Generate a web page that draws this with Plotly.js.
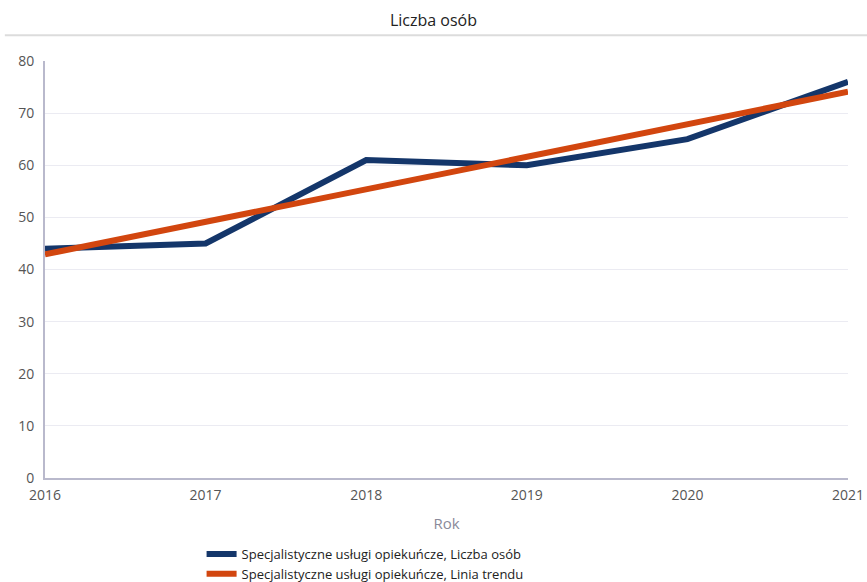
<!DOCTYPE html>
<html>
<head>
<meta charset="utf-8">
<script src="https://cdn.plot.ly/plotly-3.0.1.min.js"></script>
<style>html,body{margin:0;padding:0;background:#fff;}#chart{width:867px;height:582px;}</style>
</head>
<body>
<div id="chart"></div>
<script>
const years = [2016, 2017, 2018, 2019, 2020, 2021];
const liczbaOsob = [44, 45, 61, 60, 65, 76];
const liniaTrendu = [42.9, 49.1, 55.4, 61.6, 67.9, 74.1];
const yTicks = [0, 10, 20, 30, 40, 50, 60, 70, 80];
const seriesNames = ['Specjalistyczne usługi opiekuńcze, Liczba osób', 'Specjalistyczne usługi opiekuńcze, Linia trendu'];

const font = 'Open Sans, Noto Sans, sans-serif';
const traces = [
  {x: years, y: liczbaOsob, type: 'scatter', mode: 'lines', name: seriesNames[0],
   line: {color: '#14366a', width: 6}},
  {x: years, y: liniaTrendu, type: 'scatter', mode: 'lines', name: seriesNames[1],
   line: {color: '#d2460f', width: 6}}
];
const layout = {
  width: 867, height: 582,
  margin: {l: 45, r: 19, t: 61, b: 104, autoexpand: false},
  paper_bgcolor: '#fff', plot_bgcolor: '#fff',
  font: {family: font, color: '#555', size: 14},
  title: {text: 'Liczba osób', x: 0.5, xanchor: 'center', y: 0.965, yanchor: 'middle', font: {family: font, size: 16, color: '#222'}},
  xaxis: {
    range: [2016, 2021], tickvals: years, ticktext: years.map(String),
    showgrid: false, zeroline: false, showline: true, linecolor: '#b9b9cc', linewidth: 2,
    ticks: '', tickfont: {size: 14, color: '#555'}, ticklabelstandoff: 3,
    title: {text: 'Rok', font: {size: 15, color: '#8a8a9a'}, standoff: 16}
  },
  yaxis: {
    range: [0, 80], tickvals: yTicks, showgrid: true, gridcolor: '#ebebf2', gridwidth: 1,
    zeroline: false, showline: true, linecolor: '#b9b9cc', linewidth: 2,
    ticks: '', tickfont: {size: 14, color: '#555'}, ticklabelstandoff: 6
  },
  showlegend: true,
  legend: {orientation: 'v', x: 0.195, xanchor: 'left', yref: 'container', y: 0.074, yanchor: 'top',
    font: {size: 13, color: '#222'}, itemwidth: 30, tracegroupgap: 0, bgcolor: 'rgba(0,0,0,0)'},
  shapes: [{type: 'line', xref: 'paper', yref: 'paper', x0: -0.05, x1: 1.03, y0: 1.062, y1: 1.062,
    line: {color: '#dcdcdc', width: 2}}]
};
Plotly.newPlot('chart', traces, layout, {displayModeBar: false, staticPlot: true});
</script>
</body>
</html>
